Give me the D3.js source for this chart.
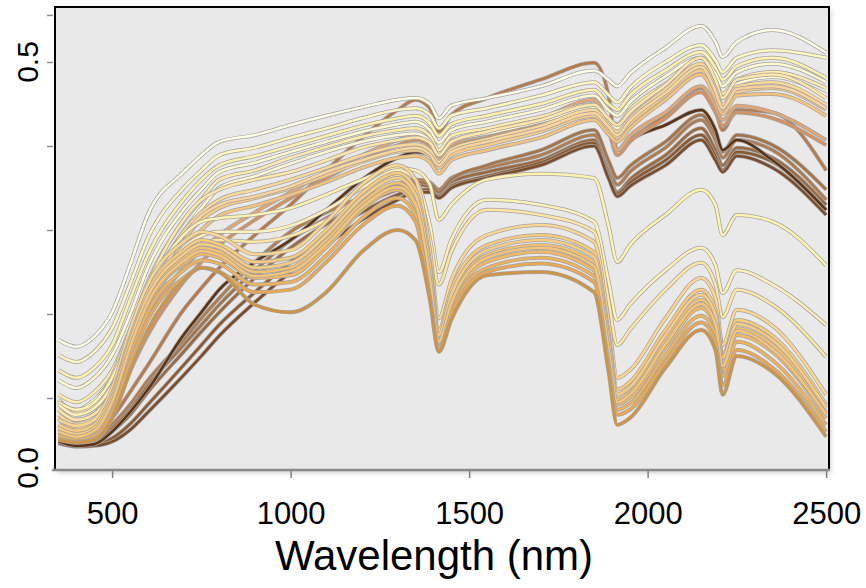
<!DOCTYPE html>
<html>
<head>
<meta charset="utf-8">
<script src="https://cdn.jsdelivr.net/npm/d3@7"></script>
<style>
  body { margin: 0; background: #fff; }
  text { font-family: "Liberation Sans", Arial, sans-serif; }
</style>
</head>
<body>
<div id="container"></div>
<script>
// Constants and globals
const width = 866,
  height = 588,
  panel = { left: 55, right: 829, top: 7, bottom: 470 }

const wavelengths = [350, 400, 450, 500, 550, 600, 700, 750, 800, 900, 1000, 1100, 1200, 1300, 1350, 1390, 1415, 1450, 1550, 1700, 1850, 1890, 1915, 1950, 2050, 2150, 2190, 2210, 2250, 2350, 2500]

const xTicks = [500, 1000, 1500, 2000, 2500]
const yTicks = [0.1, 0.2, 0.3, 0.4, 0.5, 0.556]
const yLabels = [0.0, 0.5]

// brown soils
const brownSpectra = [
  [.050, .046, .047, .068, .092, .121, .169, .195, .219, .262, .298, .321, .339, .354, .360, .357, .348, .362, .374, .389, .413, .377, .354, .369, .398, .431, .407, .386, .407, .395, .336],
  [.048, .044, .045, .060, .080, .107, .155, .179, .202, .243, .279, .307, .330, .348, .354, .352, .343, .357, .369, .383, .407, .369, .345, .360, .389, .421, .395, .377, .398, .386, .330],
  [.049, .043, .044, .052, .069, .092, .139, .163, .187, .226, .262, .294, .321, .342, .348, .348, .340, .352, .364, .380, .404, .365, .343, .356, .383, .413, .388, .371, .393, .381, .324],
  [.047, .045, .046, .064, .086, .115, .163, .187, .211, .252, .288, .314, .336, .352, .357, .355, .345, .360, .377, .395, .419, .383, .362, .376, .405, .437, .413, .393, .413, .401, .348],
  [.046, .042, .043, .048, .062, .083, .127, .150, .174, .214, .250, .282, .312, .336, .345, .345, .338, .350, .362, .377, .400, .362, .340, .352, .377, .407, .383, .369, .388, .374, .318],
  [.048, .043, .045, .060, .083, .110, .175, .202, .229, .262, .288, .324, .360, .386, .393, .389, .377, .395, .410, .429, .445, .419, .395, .407, .425, .443, .419, .395, .407, .383, .324]
]
const brownColors = ["#b07c52", "#9c6a42", "#8a5a32", "#a67448", "#7c4c2a", "#5a3214"]

// tan / reddish soils
const tanSpectra = [
  [.052, .048, .050, .076, .107, .139, .205, .231, .255, .294, .330, .371, .410, .443, .455, .445, .417, .437, .457, .479, .499, .461, .395, .407, .437, .469, .443, .419, .443, .440, .371],
  [.054, .050, .052, .092, .133, .175, .238, .262, .282, .312, .338, .362, .383, .401, .407, .401, .381, .398, .410, .426, .448, .419, .389, .405, .433, .464, .440, .424, .440, .433, .401],
  [.060, .054, .058, .104, .151, .195, .255, .276, .294, .321, .345, .369, .389, .407, .413, .407, .386, .402, .415, .433, .455, .425, .395, .412, .440, .471, .448, .431, .448, .440, .407]
]
const tanColors = ["#b87a4a", "#d49262", "#e4a674"]

// pale bright soils
const paleSpectra = [
  [.169, .161, .173, .202, .258, .318, .369, .389, .405, .413, .425, .436, .446, .455, .457, .450, .433, .448, .457, .471, .490, .479, .471, .486, .517, .543, .524, .506, .524, .538, .511],
  [.151, .143, .155, .183, .235, .290, .350, .371, .389, .398, .410, .421, .433, .443, .445, .437, .421, .436, .445, .460, .476, .461, .452, .469, .500, .520, .502, .488, .505, .514, .505],
  [.133, .124, .136, .163, .217, .270, .336, .360, .377, .388, .400, .412, .424, .433, .436, .427, .412, .426, .436, .450, .467, .450, .443, .460, .490, .512, .493, .479, .495, .505, .481],
  [.121, .112, .124, .151, .199, .255, .324, .348, .369, .380, .393, .405, .417, .426, .429, .419, .404, .419, .429, .443, .460, .443, .436, .452, .483, .505, .486, .471, .488, .498, .476],
  [.104, .095, .107, .133, .181, .238, .310, .336, .360, .371, .386, .399, .411, .419, .421, .412, .395, .412, .421, .435, .450, .433, .426, .443, .474, .495, .476, .462, .479, .488, .469],
  [.092, .086, .098, .124, .169, .226, .298, .326, .350, .364, .379, .393, .405, .413, .415, .406, .389, .406, .415, .429, .445, .429, .421, .438, .469, .490, .471, .457, .474, .482, .461]
]
const paleColors = ["#fffde6", "#fff7c2", "#fff1ae", "#fffad2", "#ffecac", "#fff8d6"]

// yellow-orange soils
const yellowSpectra = [
  [.098, .083, .092, .127, .181, .235, .312, .336, .348, .360, .369, .383, .398, .407, .410, .404, .389, .405, .417, .431, .449, .433, .425, .440, .473, .505, .479, .457, .479, .485, .457],
  [.086, .074, .081, .115, .167, .219, .298, .321, .336, .348, .360, .374, .389, .400, .402, .395, .381, .396, .408, .424, .443, .426, .417, .433, .467, .498, .469, .449, .471, .476, .449],
  [.076, .064, .074, .107, .157, .210, .288, .312, .326, .338, .350, .365, .381, .393, .395, .388, .374, .389, .401, .417, .436, .419, .410, .426, .460, .490, .462, .443, .464, .469, .443],
  [.068, .057, .064, .098, .145, .198, .276, .300, .317, .329, .342, .357, .374, .386, .388, .381, .367, .383, .395, .410, .431, .414, .405, .421, .455, .485, .457, .438, .460, .462, .436],
  [.080, .069, .076, .110, .162, .214, .293, .317, .330, .340, .352, .369, .383, .395, .398, .390, .377, .393, .405, .420, .439, .423, .413, .430, .463, .494, .465, .445, .468, .471, .445]
]
const yellowColors = ["#ffe6a8", "#fcd898", "#f7cc88", "#f4c27c", "#fad49a"]

// pale soils with strong water bands
const midSpectra = [
  [.095, .086, .095, .124, .175, .229, .294, .310, .314, .318, .326, .342, .360, .374, .371, .354, .312, .330, .360, .367, .362, .306, .262, .282, .318, .348, .330, .294, .318, .310, .258],
  [.092, .080, .088, .115, .163, .217, .279, .293, .298, .298, .305, .324, .350, .371, .360, .306, .250, .288, .336, .330, .310, .240, .193, .211, .252, .279, .258, .225, .252, .235, .187],
  [.086, .074, .081, .107, .155, .207, .269, .283, .288, .286, .293, .312, .340, .364, .350, .290, .235, .274, .324, .318, .298, .217, .163, .181, .229, .261, .235, .196, .229, .211, .149]
]
const midColors = ["#fff3b0", "#fff0b8", "#ffe6a4"]

// orange soils, deep absorption features
const orangeSpectra = [
  [.074, .067, .074, .112, .181, .235, .286, .298, .293, .271, .276, .310, .354, .377, .360, .276, .195, .240, .294, .306, .286, .193, .124, .133, .195, .243, .219, .163, .205, .186, .104],
  [.068, .061, .068, .105, .171, .226, .276, .288, .283, .262, .267, .300, .344, .368, .348, .262, .181, .229, .282, .294, .274, .179, .110, .119, .181, .229, .205, .151, .193, .174, .092],
  [.062, .055, .062, .098, .163, .217, .267, .279, .274, .250, .255, .288, .332, .356, .336, .246, .169, .217, .270, .282, .262, .163, .098, .107, .169, .217, .193, .143, .183, .163, .083],
  [.058, .053, .058, .093, .157, .210, .260, .271, .267, .243, .246, .279, .324, .348, .326, .238, .163, .210, .262, .274, .252, .155, .092, .100, .160, .207, .183, .133, .175, .155, .076],
  [.064, .057, .064, .100, .167, .221, .271, .283, .279, .255, .261, .294, .338, .362, .342, .255, .175, .223, .276, .288, .268, .171, .104, .113, .175, .223, .199, .148, .188, .169, .088],
  [.055, .051, .055, .088, .150, .202, .252, .264, .260, .235, .238, .270, .314, .338, .318, .229, .160, .205, .255, .267, .245, .148, .086, .093, .151, .198, .175, .126, .167, .145, .068],
  [.060, .054, .061, .095, .160, .213, .263, .275, .270, .245, .251, .283, .327, .351, .331, .243, .167, .213, .267, .279, .257, .160, .095, .104, .164, .212, .188, .138, .180, .158, .080],
  [.052, .048, .052, .083, .143, .193, .243, .255, .250, .226, .229, .262, .305, .329, .310, .221, .157, .200, .250, .260, .238, .143, .080, .086, .143, .190, .167, .115, .157, .136, .060],
  [.050, .047, .050, .076, .131, .181, .240, .255, .250, .211, .202, .226, .274, .300, .288, .217, .155, .193, .246, .250, .226, .133, .068, .076, .136, .181, .157, .104, .150, .131, .054]
]
const orangeColors = ["#fcd690", "#f9ca7c", "#f5c070", "#f2b865", "#f8cc82", "#efb25c", "#f6c478", "#eaa852", "#cf9444"]

// drawing order: browns underneath, oranges on top
const spectra = [
  ...brownSpectra.map((s, i) => ({ values: s, color: brownColors[i] })),
  ...tanSpectra.map((s, i) => ({ values: s, color: tanColors[i] })),
  ...paleSpectra.map((s, i) => ({ values: s, color: paleColors[i] })),
  ...yellowSpectra.map((s, i) => ({ values: s, color: yellowColors[i] })),
  ...midSpectra.map((s, i) => ({ values: s, color: midColors[i] })),
  ...orangeSpectra.map((s, i) => ({ values: s, color: orangeColors[i] }))
]

// scales
const xScale = d3.scaleLinear()
  .domain([340, 2508])
  .range([panel.left, panel.right])

const yScale = d3.scaleLinear()
  .domain([0, 0.5])
  .range([482, 62])

const svg = d3.select("#container")
  .append("svg")
  .attr("width", width)
  .attr("height", height)

const defs = svg.append("defs")
defs.append("clipPath").attr("id", "clip")
  .append("rect")
  .attr("x", panel.left).attr("y", panel.top)
  .attr("width", panel.right - panel.left).attr("height", panel.bottom - panel.top)

const shadow = defs.append("filter").attr("id", "shadow")
  .attr("x", "-5%").attr("y", "-5%").attr("width", "110%").attr("height", "110%")
shadow.append("feDropShadow")
  .attr("dx", 2).attr("dy", 3).attr("stdDeviation", 2.5)
  .attr("flood-color", "#000").attr("flood-opacity", 0.18)

// panel
svg.append("rect")
  .attr("x", panel.left).attr("y", panel.top)
  .attr("width", panel.right - panel.left).attr("height", panel.bottom - panel.top)
  .attr("fill", "#e9e9e9")
  .attr("filter", "url(#shadow)")

// spectra
const line = d3.line()
  .x((d, i) => xScale(wavelengths[i]))
  .y(d => yScale(d))
  .curve(d3.curveMonotoneX)

const lines = svg.append("g").attr("clip-path", "url(#clip)")

const spec = lines.selectAll("g")
  .data(spectra)
  .join("g")

spec.append("path")
  .attr("d", d => line(d.values))
  .attr("fill", "none")
  .attr("stroke", "#a3a3a3")
  .attr("stroke-width", 4)
  .attr("stroke-linejoin", "round")

spec.append("path")
  .attr("d", d => line(d.values))
  .attr("fill", "none")
  .attr("stroke", d => d.color)
  .attr("stroke-width", 2.5)
  .attr("stroke-linejoin", "round")

// frame
const frame = svg.append("g").attr("fill", "none")
frame.append("path")
  .attr("d", `M${panel.left},${panel.bottom} V${panel.top} H${panel.right} V${panel.bottom}`)
  .attr("stroke", "#000")
  .attr("stroke-width", 2)

// x axis
const xAxis = d3.axisBottom(xScale)
  .tickValues(xTicks)
  .tickSize(8)
  .tickPadding(24)
  .tickFormat(d3.format("d"))

const gx = svg.append("g")
  .attr("transform", `translate(0,${panel.bottom})`)
  .call(xAxis)
gx.select(".domain").remove()
gx.selectAll(".tick line").attr("stroke", "#808080").attr("stroke-width", 1.5)
gx.selectAll(".tick text")
  .attr("fill", "#000")
  .attr("font-size", 31)
  .attr("font-family", "Liberation Sans, Arial, sans-serif")

svg.append("line")
  .attr("x1", panel.left - 3).attr("x2", panel.right + 1)
  .attr("y1", panel.bottom).attr("y2", panel.bottom)
  .attr("stroke", "#8a8a8a")
  .attr("stroke-width", 2.5)

// y axis
const yAxis = d3.axisLeft(yScale)
  .tickValues(yTicks)
  .tickSize(6)
  .tickFormat("")

const gy = svg.append("g")
  .attr("transform", `translate(${panel.left - 2},0)`)
  .call(yAxis)
gy.select(".domain").remove()
gy.selectAll(".tick line").attr("stroke", "#909090").attr("stroke-width", 1.5)

svg.selectAll(".ylabel")
  .data(yLabels)
  .join("text")
  .attr("class", "ylabel")
  .attr("transform", d => `translate(38,${d === 0 ? yScale(d) - 14 : yScale(d)}) rotate(-90)`)
  .attr("text-anchor", "middle")
  .attr("font-size", 30)
  .attr("fill", "#000")
  .text(d3.format(".1f"))

// axis title
svg.append("text")
  .attr("x", 434)
  .attr("y", 570)
  .attr("text-anchor", "middle")
  .attr("font-size", 42)
  .attr("fill", "#000")
  .text("Wavelength (nm)")
</script>
</body>
</html>
